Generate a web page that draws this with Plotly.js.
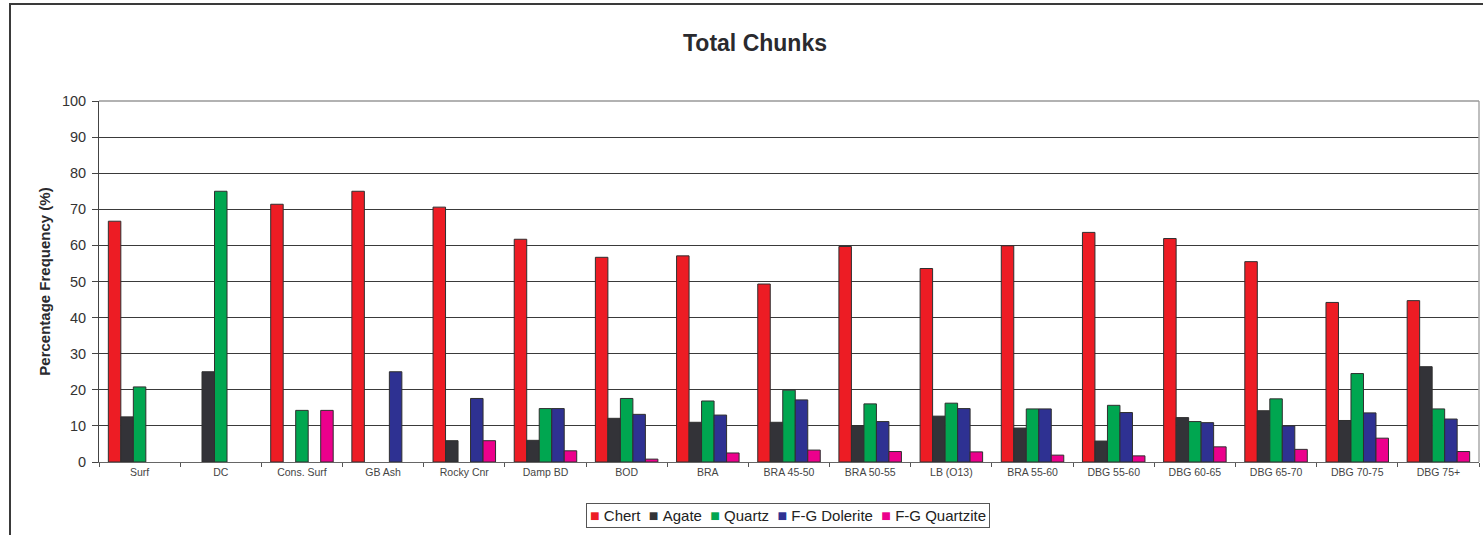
<!DOCTYPE html>
<html>
<head>
<meta charset="utf-8">
<script src="https://cdn.plot.ly/plotly-3.0.1.min.js"></script>
<style>
  html, body { margin: 0; padding: 0; background: #fff; overflow: hidden; }
  #wrap { position: relative; width: 1483px; height: 535px; }
  #chart { width: 1483px; height: 535px; }
  #frame { position: absolute; left: 9px; top: 3px; width: 1480px; height: 540px;
           border-left: 2px solid #3a3a3a; border-top: 2px solid #3a3a3a; pointer-events: none; }
</style>
</head>
<body>
<div id="wrap">
  <div id="chart"></div>
  <div id="frame"></div>
</div>
<script>
const categories = ["Surf", "DC", "Cons. Surf", "GB Ash", "Rocky Cnr", "Damp BD", "BOD", "BRA",
  "BRA 45-50", "BRA 50-55", "LB (O13)", "BRA 55-60", "DBG 55-60", "DBG 60-65", "DBG 65-70",
  "DBG 70-75", "DBG 75+"];

const chert     = [66.7, 0, 71.4, 75, 70.6, 61.7, 56.7, 57.1, 49.3, 59.7, 53.6, 59.9, 63.6, 61.9, 55.5, 44.2, 44.7];
const agate     = [12.5, 25, 0, 0, 5.9, 6.0, 12.1, 11.0, 11.0, 10.1, 12.7, 9.4, 5.8, 12.3, 14.2, 11.5, 26.4];
const quartz    = [20.8, 75, 14.3, 0, 0, 14.8, 17.6, 16.9, 19.9, 16.1, 16.3, 14.7, 15.7, 11.2, 17.5, 24.5, 14.7];
const dolerite  = [0, 0, 0, 25, 17.6, 14.8, 13.2, 13.0, 17.2, 11.2, 14.8, 14.7, 13.7, 10.9, 10.0, 13.6, 11.9];
const quartzite = [0, 0, 14.3, 0, 5.9, 3.1, 0.8, 2.5, 3.3, 2.9, 2.8, 1.9, 1.7, 4.2, 3.5, 6.6, 2.9];

const seriesNames = ["Chert", "Agate", "Quartz", "F-G Dolerite", "F-G Quartzite"];
const seriesData = [chert, agate, quartz, dolerite, quartzite];
const colors = ["#ED1C24", "#333338", "#00A650", "#2E3192", "#EC008C"];

const traces = seriesData.map((vals, i) => ({
  type: "bar",
  name: seriesNames[i],
  x: categories,
  y: vals,
  marker: {
    color: colors[i],
    line: { color: "#2f2f2f", width: vals.map(v => (v > 0 ? 1 : 0)) }
  },
  showlegend: false,
  hoverinfo: "x+y+name"
}));

// Legend drawn as a single bordered text annotation built from series names/colours
const legendText = seriesNames.map((n, i) =>
  "<span style='color:" + colors[i] + ";font-size:16px'>■</span>\u00a0" + n).join("\u00a0\u00a0");

const layout = {
  width: 1483,
  height: 535,
  margin: { l: 99, r: 4, t: 101, b: 73 },
  paper_bgcolor: "rgba(0,0,0,0)",
  plot_bgcolor: "#fff",
  font: { family: "Liberation Sans, Arial, sans-serif", color: "#333" },
  title: {
    text: "<b>Total Chunks</b>",
    font: { size: 23, color: "#2a2a2e", family: "Liberation Sans, Arial, sans-serif" },
    x: 755 / 1483, xanchor: "center", xref: "container",
    y: 1 - 43 / 535, yanchor: "middle", yref: "container"
  },
  barmode: "group",
  bargap: 0.23,
  bargroupgap: 0,
  xaxis: {
    type: "category",
    tickson: "boundaries",
    ticks: "outside",
    ticklen: 4,
    tickcolor: "#555",
    showline: true,
    linecolor: "#666",
    linewidth: 1,
    showgrid: false,
    tickfont: { size: 10.5, color: "#444" },
    fixedrange: true
  },
  yaxis: {
    range: [0, 100],
    dtick: 10,
    ticks: "outside",
    ticklen: 6,
    tickcolor: "#444",
    showline: true,
    linecolor: "#444",
    linewidth: 1,
    showgrid: true,
    gridcolor: "#3a3a3a",
    gridwidth: 1,
    zeroline: false,
    ticklabelstandoff: 3,
    tickfont: { size: 14.5, color: "#333" },
    title: { text: "<b>Percentage Frequency (%)</b>", font: { size: 15, color: "#2a2a2e" }, standoff: 7 },
    fixedrange: true
  },
  shapes: [
    { type: "line", xref: "paper", yref: "paper", x0: 1, x1: 1, y0: 0, y1: 1,
      line: { color: "#aaa", width: 1.5 } },
    { type: "line", xref: "paper", yref: "paper", x0: 0, x1: 1, y0: 1, y1: 1,
      line: { color: "#999", width: 1.5 } }
  ],
  annotations: [
    {
      xref: "paper", yref: "paper",
      x: (787.5 - 99) / 1380, xanchor: "center",
      y: -(503 - 462) / 361, yanchor: "top",
      text: legendText,
      showarrow: false,
      font: { size: 15, color: "#222", family: "Liberation Sans, Arial, sans-serif" },
      bordercolor: "#555",
      borderwidth: 1,
      borderpad: 3,
      bgcolor: "#fff"
    }
  ],
  showlegend: false
};

Plotly.newPlot("chart", traces, layout, { displayModeBar: false, staticPlot: true });
</script>
</body>
</html>
